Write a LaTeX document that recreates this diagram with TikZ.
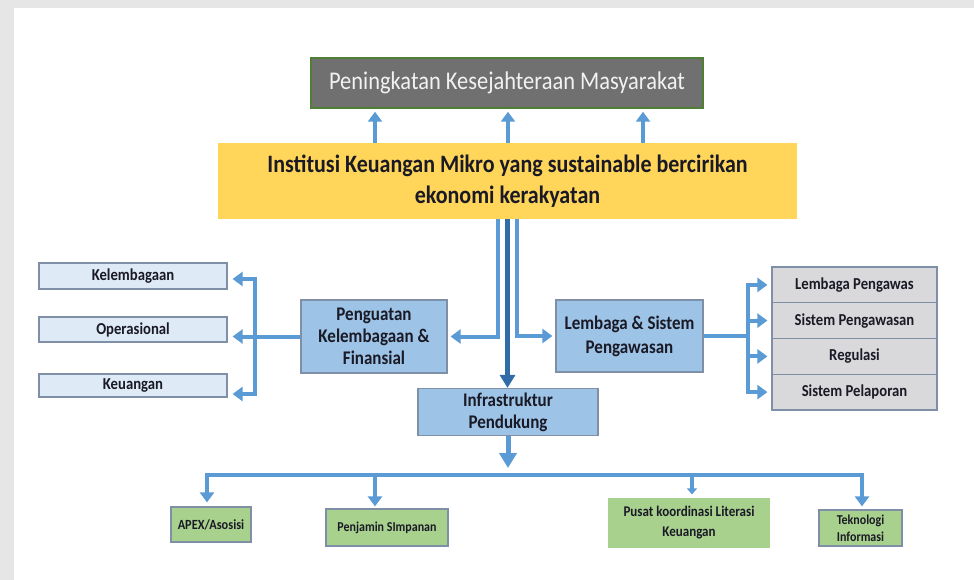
\documentclass[tikz,border=0pt]{standalone}
\usepackage{fontspec}
\setmainfont{Carlito}[FakeStretch=0.88]
\usetikzlibrary{arrows.meta}
\definecolor{arrblue}{HTML}{5B9BD5}
\definecolor{darkblue}{HTML}{2F6CA8}
\definecolor{boxblue}{HTML}{9DC3E6}
\definecolor{lightblue}{HTML}{DEEBF7}
\definecolor{greybox}{HTML}{D9D9DB}
\definecolor{greenbox}{HTML}{A9D18E}
\definecolor{yellowbox}{HTML}{FFD55A}
\definecolor{topgrey}{HTML}{707070}
\definecolor{topedge}{HTML}{4E7F35}
\definecolor{edgecol}{HTML}{7F8FA6}
\definecolor{txt}{HTML}{1A1A26}
\definecolor{bggrey}{HTML}{E6E6E6}
\begin{document}
\begin{tikzpicture}[x=1pt,y=-1pt,
  box/.style={draw=edgecol, line width=1.2pt, text=txt, align=center, inner sep=0pt},
  bigtxt/.style={font=\fontsize{19.3}{22}\selectfont\bfseries},
  sidetxt/.style={font=\fontsize{16.7}{18}\selectfont\bfseries},
  smalltxt/.style={font=\fontsize{14}{17}\selectfont\bfseries},
  linkline/.style={draw=arrblue, line width=4pt},
  arr/.style={draw=arrblue, line width=4pt, -{Triangle[width=14pt,length=10pt]}, shorten >=4pt},
  smallarr/.style={draw=arrblue, line width=4pt, -{Triangle[width=10pt,length=6pt]}, shorten >=3pt},
  darr/.style={draw=darkblue, line width=4.5pt, -{Triangle[width=15pt,length=13pt]}},
  bigarr/.style={draw=arrblue, line width=5pt, -{Triangle[width=17pt,length=15pt]}, shorten >=7pt}
]
\useasboundingbox (0,0) rectangle (974,580);
\fill[white] (0,0) rectangle (974,580);
\fill[bggrey] (0,0) rectangle (974,8);
\fill[bggrey] (0,0) rectangle (14,580);

% top goal
\node[draw=topedge, line width=1.5pt, fill=topgrey, text={rgb,255:red,242;green,242;blue,242},
  minimum width=392pt, minimum height=50pt, inner sep=0pt,
  font=\fontsize{25.5}{27}\selectfont] (top) at (507,83) {Peningkatan Kesejahteraan Masyarakat};

% yellow main
\node[fill=yellowbox, text=txt, align=center, inner sep=0pt, minimum width=579pt, minimum height=76pt,
  font=\fontsize{25}{31}\selectfont\bfseries] (yellow) at (507.5,181)
  {Institusi Keuangan Mikro yang sustainable bercirikan\\ekonomi kerakyatan};

% middle boxes
\node[box, fill=boxblue, minimum width=146pt, minimum height=73pt, bigtxt] (peng) at (374,336.5)
  {Penguatan\\Kelembagaan \&\\Finansial};
\node[box, fill=boxblue, minimum width=147pt, minimum height=72pt, bigtxt, font=\fontsize{19.3}{24}\selectfont\bfseries] (lemb) at (629.5,336)
  {Lembaga \& Sistem\\Pengawasan};
\node[box, fill=boxblue, minimum width=180pt, minimum height=47pt, bigtxt] (infra) at (508,412)
  {Infrastruktur\\Pendukung};

% left boxes
\node[box, fill=lightblue, minimum width=188pt, minimum height=26pt, sidetxt] (kel) at (133,276) {Kelembagaan};
\node[box, fill=lightblue, minimum width=188pt, minimum height=25pt, sidetxt] (ope) at (133,329.5) {Operasional};
\node[box, fill=lightblue, minimum width=188pt, minimum height=23pt, sidetxt] (keu) at (133,385.5) {Keuangan};

% right boxes
\node[box, fill=greybox, minimum width=165pt, minimum height=35.75pt, sidetxt] (r1) at (854.5,284.9) {Lembaga Pengawas};
\node[box, fill=greybox, minimum width=165pt, minimum height=35.75pt, sidetxt] (r2) at (854.5,320.6) {Sistem Pengawasan};
\node[box, fill=greybox, minimum width=165pt, minimum height=35.75pt, sidetxt] (r3) at (854.5,356.4) {Regulasi};
\node[box, fill=greybox, minimum width=165pt, minimum height=35.75pt, sidetxt] (r4) at (854.5,392.1) {Sistem Pelaporan};

% bottom boxes
\node[box, fill=greenbox, minimum width=80pt, minimum height=35pt, smalltxt] (apex) at (211,524.5) {APEX/Asosisi};
\node[box, fill=greenbox, minimum width=122pt, minimum height=37pt, smalltxt, font=\fontsize{13.6}{17}\selectfont\bfseries] (penj) at (387,527.5) {Penjamin SImpanan};
\node[box, draw=none, fill=greenbox, minimum width=162pt, minimum height=50pt,
  font=\fontsize{14.8}{20}\selectfont\bfseries] (pusat) at (689,523) {Pusat koordinasi Literasi\\Keuangan};
\node[box, fill=greenbox, minimum width=83pt, minimum height=36pt,
  font=\fontsize{13.6}{17}\selectfont\bfseries] (tekno) at (860.5,528) {Teknologi\\Informasi};

% up arrows
\foreach \dx in {-132.5,0.5,135.5}
  \draw[arr, shorten >=3pt] ([xshift=\dx pt]yellow.north) -- ([xshift=\dx pt]yellow.north |- top.south);

% from yellow down
\draw[arr, shorten >=3pt] ([xshift=-9.5pt]yellow.south) |- (peng.east);
\draw[arr, shorten >=3pt] ([xshift=9pt]yellow.south) |- (lemb.west);
\draw[darr] (yellow.south) -- (yellow.south |- infra.north);

% left bracket
\coordinate (lbt) at (255,279);
\coordinate (lbb) at (255,394);
\draw[linkline, line cap=rect] (lbt) -- (lbb);
\draw[linkline] (peng.west) -- (peng.west -| lbt);
\draw[arr, shorten >=5pt] (lbt) -- (lbt -| kel.east);
\draw[arr, shorten >=5pt] (peng.west -| lbt) -- (peng.west -| ope.east);
\draw[arr, shorten >=5pt] (lbb) -- (lbb -| keu.east);

% right bracket
\coordinate (rb) at (748,336);
\draw[linkline] (lemb.east) -- (rb);
\draw[linkline, line cap=rect] (rb |- r1.west) -- (rb |- r4.west);
\foreach \r in {r1,r2,r3,r4}
  \draw[arr] (rb |- \r.west) -- (\r.west);

% infrastructure fan-out
\coordinate (hub) at (508,475);
\coordinate (bl) at (207,475);
\coordinate (b2) at (375,475);
\coordinate (b3) at (692,475);
\coordinate (br) at (862,475);
\draw[bigarr] (infra.south) -- (hub);
\draw[linkline, line width=4.5pt, line cap=rect] (bl) -- (br);
\draw[arr] (bl) -- (bl |- apex.north);
\draw[arr, shorten >=2pt] (b2) -- (b2 |- penj.north);
\draw[smallarr] (b3) -- (b3 |- pusat.north);
\draw[arr, shorten >=3pt] (br) -- (br |- tekno.north);
\end{tikzpicture}
\end{document}
